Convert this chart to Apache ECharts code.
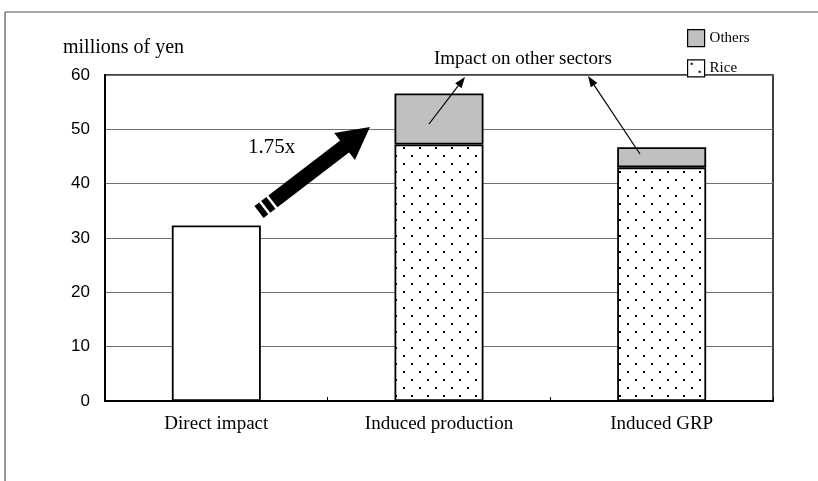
<!DOCTYPE html>
<html>
<head>
<meta charset="utf-8">
<script src="https://cdn.jsdelivr.net/npm/echarts@6/dist/echarts.min.js"></script>
<style>
html,body{margin:0;padding:0;background:#fff;}
#chart{width:818px;height:481px;}
</style>
</head>
<body>
<div id="chart"></div>
<script>
const categories = ['Direct impact', 'Induced production', 'Induced GRP'];
const directValues = [32.3, '-', '-'];
const riceValues = ['-', 47.2, 43.0];
const othersValues = ['-', 9.4, 3.7];
const yTicks = { min: 0, max: 60, interval: 10 };
const yAxisTitle = 'millions of yen';
const multiplierLabel = '1.75x';
const annotationLabel = 'Impact on other sectors';

// dotted pattern for "Rice"
const pc = document.createElement('canvas');
pc.width = 16; pc.height = 16;
const pctx = pc.getContext('2d');
pctx.fillStyle = '#fff'; pctx.fillRect(0, 0, 16, 16);
pctx.fillStyle = '#000';
pctx.fillRect(3, 3, 2, 2);
pctx.fillRect(11, 11, 2, 2);
const ricePattern = { image: pc, repeat: 'repeat' };

const chart = echarts.init(document.getElementById('chart'), null, { renderer: 'canvas' });

function arrowHead(tip, from, len, hw) {
  const dx = tip[0] - from[0], dy = tip[1] - from[1];
  const L = Math.hypot(dx, dy);
  const ux = dx / L, uy = dy / L, nx = -uy, ny = ux;
  const bx = tip[0] - ux * len, by = tip[1] - uy * len;
  return [[tip[0], tip[1]], [bx + nx * hw, by + ny * hw], [bx - nx * hw, by - ny * hw]];
}

function thinArrow(from, tip) {
  const head = arrowHead(tip, from, 11, 4);
  return [
    { type: 'line', shape: { x1: from[0], y1: from[1], x2: (head[1][0] + head[2][0]) / 2, y2: (head[1][1] + head[2][1]) / 2 }, style: { stroke: '#000', lineWidth: 1.2 }, z: 100 },
    { type: 'polygon', shape: { points: head }, style: { fill: '#000' }, z: 100 }
  ];
}

function thickArrow(tail, tip) {
  const dx = tip[0] - tail[0], dy = tip[1] - tail[1];
  const L = Math.hypot(dx, dy);
  const ux = dx / L, uy = dy / L, nx = -uy, ny = ux;
  const hw = 7.5, headLen = 32, headHw = 17;
  const P = (d, w) => [tail[0] + ux * d + nx * w, tail[1] + uy * d + ny * w];
  const segs = [[0, 6], [8.5, 15], [17.5, L - headLen + 1]];
  const els = segs.map(s => ({
    type: 'polygon',
    shape: { points: [P(s[0], hw), P(s[1], hw), P(s[1], -hw), P(s[0], -hw)] },
    style: { fill: '#000' }, z: 100
  }));
  els.push({
    type: 'polygon',
    shape: { points: [P(L, 0), P(L - headLen, headHw), P(L - headLen, -headHw)] },
    style: { fill: '#000' }, z: 100
  });
  return els;
}

const serif = '"Liberation Serif", "Times New Roman", serif';

const option = {
  animation: false,
  backgroundColor: '#fff',
  grid: { left: 105, right: 45, top: 75, bottom: 80, show: true, borderColor: '#000', borderWidth: 1.5, backgroundColor: 'transparent' },
  legend: {
    data: [{ name: 'Others', icon: 'rect' }, { name: 'Rice', icon: 'rect' }],
    orient: 'vertical',
    left: 682, top: 24,
    itemWidth: 17, itemHeight: 17, itemGap: 12,
    textStyle: { fontFamily: serif, fontSize: 15, color: '#000' },
    itemStyle: { borderColor: '#000', borderWidth: 1.2 },
    selectedMode: false
  },
  xAxis: {
    type: 'category',
    data: categories,
    axisLine: { lineStyle: { color: '#000', width: 2 } },
    axisTick: { show: true, inside: true, length: 4, lineStyle: { color: '#000' } },
    axisLabel: { fontFamily: serif, fontSize: 19, color: '#000', margin: 14 }
  },
  yAxis: {
    type: 'value',
    min: yTicks.min, max: yTicks.max, interval: yTicks.interval,
    axisLine: { show: true, lineStyle: { color: '#000', width: 2 } },
    axisTick: { show: false },
    axisLabel: { fontFamily: '"Liberation Sans", Arial, sans-serif', fontSize: 17, color: '#000', margin: 15 },
    splitLine: { lineStyle: { color: '#707070', width: 1.2 } }
  },
  series: [
    { name: 'Direct', type: 'bar', stack: 's', data: directValues, barWidth: 89,
      itemStyle: { color: '#fff', borderColor: '#000', borderWidth: 1.8 } },
    { name: 'Rice', type: 'bar', stack: 's', data: riceValues, barWidth: 89,
      itemStyle: { color: ricePattern, borderColor: '#000', borderWidth: 1.8 } },
    { name: 'Others', type: 'bar', stack: 's', data: othersValues, barWidth: 89,
      itemStyle: { color: '#C0C0C0', borderColor: '#000', borderWidth: 1.8 } }
  ],
  graphic: [
    { type: 'line', shape: { x1: 5, y1: 12, x2: 818, y2: 12 }, style: { stroke: '#555', lineWidth: 1.2 } },
    { type: 'line', shape: { x1: 5, y1: 12, x2: 5, y2: 481 }, style: { stroke: '#555', lineWidth: 1.2 } },
    { type: 'text', left: 63, top: 38, style: { text: yAxisTitle, font: '20px ' + serif, fill: '#000' } },
    { type: 'text', left: 434, top: 50, style: { text: annotationLabel, font: '19px ' + serif, fill: '#000' } },
    { type: 'text', left: 248, top: 137, style: { text: multiplierLabel, font: '21px ' + serif, fill: '#000' } },
    ...thinArrow([429, 124], [465, 77]),
    ...thinArrow([640, 154], [588, 76]),
    ...thickArrow([259, 212], [370, 127])
  ]
};
chart.setOption(option);
</script>
</body>
</html>
